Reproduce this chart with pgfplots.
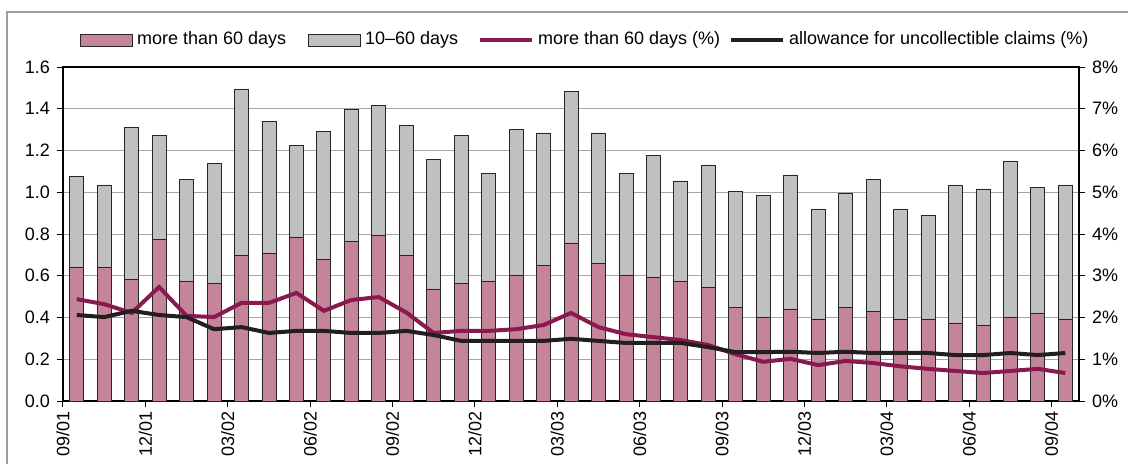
\documentclass[border=0pt]{standalone}
\usepackage{fontspec}
\setmainfont{Liberation Sans}
\usepackage{pgfplots}
\usepackage{pgfplotstable}
\pgfplotsset{compat=1.18}
\definecolor{pinkbar}{HTML}{C48599}
\definecolor{greybar}{HTML}{BFC0C2}
\definecolor{magline}{HTML}{8A1A4E}
\definecolor{blkline}{HTML}{231F20}
\pgfplotsset{
  barlegend/.style={legend image code/.code={\draw[##1] (0pt,-3pt) rectangle (26pt,3pt);}},
  linelegend/.style={legend image code/.code={\draw[##1] (0pt,0pt) -- (26pt,0pt);}},
}
\pgfplotstableread{
x m g p a
0.5 0.642 0.433 2.44 2.06
1.5 0.642 0.393 2.32 2.01
2.5 0.584 0.729 2.11 2.16
3.5 0.776 0.498 2.73 2.06
4.5 0.575 0.488 2.04 2.01
5.5 0.565 0.575 2.01 1.72
6.5 0.699 0.796 2.35 1.77
7.5 0.709 0.632 2.35 1.63
8.5 0.786 0.440 2.59 1.68
9.5 0.680 0.613 2.16 1.68
10.5 0.766 0.633 2.42 1.63
11.5 0.795 0.623 2.49 1.63
12.5 0.699 0.623 2.12 1.68
13.5 0.537 0.622 1.63 1.58
14.5 0.565 0.709 1.68 1.44
15.5 0.575 0.517 1.68 1.44
16.5 0.604 0.699 1.72 1.44
17.5 0.651 0.633 1.82 1.44
18.5 0.757 0.728 2.11 1.49
19.5 0.661 0.623 1.77 1.44
20.5 0.604 0.488 1.60 1.39
21.5 0.594 0.584 1.53 1.39
22.5 0.575 0.479 1.46 1.39
23.5 0.546 0.585 1.34 1.29
24.5 0.450 0.556 1.12 1.17
25.5 0.402 0.585 0.94 1.17
26.5 0.441 0.642 1.01 1.18
27.5 0.393 0.527 0.86 1.15
28.5 0.450 0.546 0.96 1.18
29.5 0.431 0.632 0.91 1.15
30.5 0.393 0.527 0.83 1.15
31.5 0.393 0.498 0.77 1.15
32.5 0.374 0.661 0.72 1.10
33.5 0.364 0.652 0.67 1.10
34.5 0.402 0.748 0.72 1.15
35.5 0.422 0.603 0.77 1.10
36.5 0.393 0.642 0.67 1.15
}\data
\begin{document}
\begin{tikzpicture}
\useasboundingbox (0,0) rectangle (564pt,231.5pt);
\draw[gray!75, line width=0.6pt] (3.5pt,-20pt) -- (3.5pt,225.5pt) -- (600pt,225.5pt);
\begin{axis}[
  at={(31.5pt,31pt)}, anchor=south west,
  scale only axis, width=508pt, height=167pt,
  xmin=0, xmax=37, ymin=0, ymax=1.6,
  ybar stacked, bar width=0.51,
  ytick={0,0.2,0.4,0.6,0.8,1.0,1.2,1.4,1.6},
  xtick={0,3,6,9,12,15,18,21,24,27,30,33,36},
  xticklabels={09/01,12/01,03/02,06/02,09/02,12/02,03/03,06/03,09/03,12/03,03/04,06/04,09/04},
  xticklabel style={rotate=90, anchor=east, font=\fontsize{9}{10}\selectfont, inner sep=2pt},
  yticklabel style={font=\fontsize{9}{10}\selectfont, /pgf/number format/.cd, fixed, fixed zerofill, precision=1, assume math mode=true},
  xtick pos=lower, ytick pos=left,
  tick align=outside, major tick length=3pt,
  tick style={black, line width=0.5pt},
  axis line style={black, line width=0.6pt},
  ymajorgrids, grid style={gray!70, line width=0.5pt},
  clip=false,
]
\addplot[fill=pinkbar, draw=black!85, line width=0.4pt] table[x=x, y=m] {\data};
\addplot[fill=greybar, draw=black!85, line width=0.4pt] table[x=x, y=g] {\data};
\end{axis}
\begin{axis}[
  at={(31.5pt,31pt)}, anchor=south west,
  scale only axis, width=508pt, height=167pt,
  xmin=0, xmax=37, ymin=0, ymax=8,
  axis x line=none, axis y line*=right,
  ytick={0,1,2,3,4,5,6,7,8},
  yticklabel={\pgfmathprintnumber{\tick}\%},
  yticklabel style={font=\fontsize{9}{10}\selectfont, /pgf/number format/assume math mode=true},
  tick align=outside, major tick length=3pt,
  tick style={black, line width=0.5pt},
  axis line style={black, line width=0.6pt},
  legend columns=4,
  legend style={draw=none, fill=none, at={(0.0167,1.081)}, anchor=west, inner sep=0pt,
    font=\fontsize{9}{10}\selectfont,
    /tikz/column 2/.style={column sep=9pt},
    /tikz/column 4/.style={column sep=8pt},
    /tikz/column 6/.style={column sep=2.5pt}},
]
\addlegendimage{barlegend, fill=pinkbar, draw=black!85, line width=0.4pt}
\addlegendentry{more than 60 days}
\addlegendimage{barlegend, fill=greybar, draw=black!85, line width=0.4pt}
\addlegendentry{10–60 days}
\addplot[magline, line width=2pt, linelegend] table[x=x, y=p] {\data};
\addlegendentry{more than 60 days (\%)}
\addplot[blkline, line width=2pt, linelegend] table[x=x, y=a] {\data};
\addlegendentry{allowance for uncollectible claims (\%)}
\end{axis}
\end{tikzpicture}
\end{document}
